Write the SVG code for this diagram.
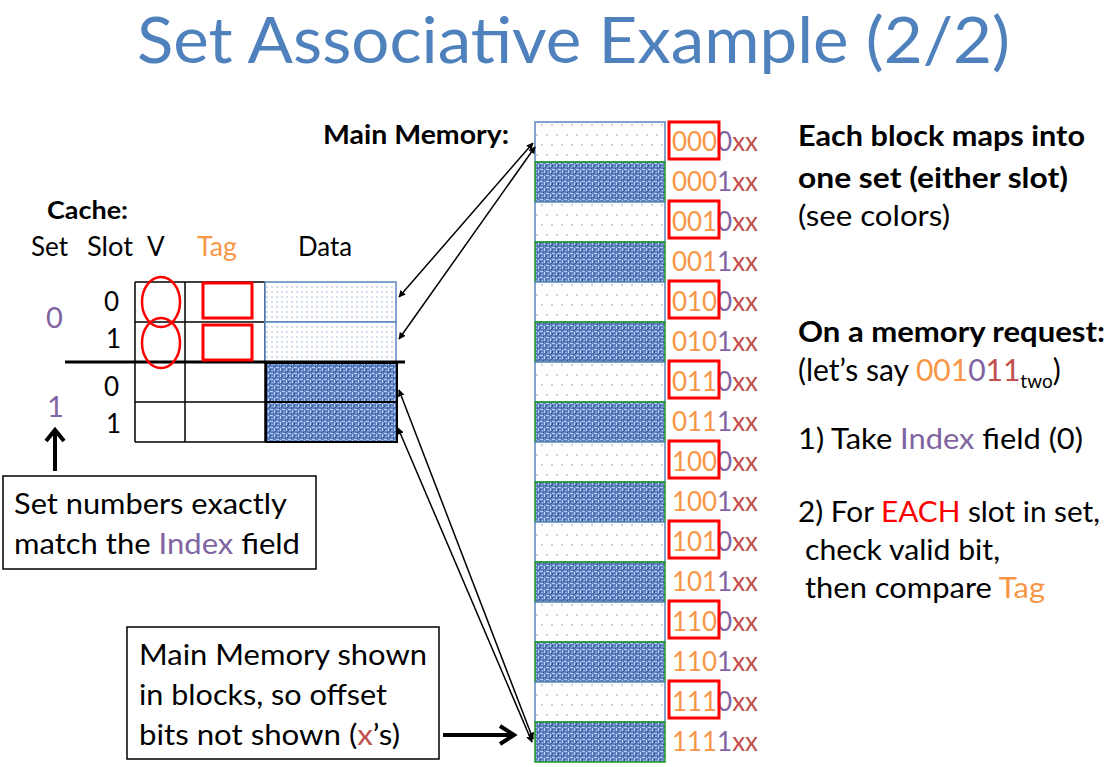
<svg xmlns="http://www.w3.org/2000/svg" width="1113" height="767" viewBox="0 0 1113 767">
<style>
text{font-family:Lato,"Liberation Sans",sans-serif;fill:#000}
.b{font-weight:bold}
.org{fill:#F79646}
.pur{fill:#8064A2}
.red{fill:#C0504D}
.grid{stroke:#000;stroke-width:1.5;fill:none}
.light{fill:url(#dots);stroke:#5B86C0;stroke-width:1.5}
.dark{fill:url(#weave);stroke:#1E9A1E;stroke-width:1.5}
.cl{fill:url(#dots2);stroke:#5B86C0;stroke-width:1.5}
.cd{fill:url(#weave);stroke:#000;stroke-width:2}
.rbox{fill:none;stroke:#FF0000;stroke-width:3}
.conn{stroke:#000;stroke-width:1.5;fill:none;marker-start:url(#ah);marker-end:url(#ah)}
.thick{stroke:#000;stroke-width:4;fill:none}
.addr{font-size:27px}
.box{fill:#fff;stroke:#000;stroke-width:1.5}
.t{font-size:29px}
.h{font-size:26px}
</style>
<defs>
<pattern id="dots" width="10" height="20" patternUnits="userSpaceOnUse">
<rect width="10" height="20" fill="#fff"/>
<circle cx="2" cy="5" r="0.8" fill="#7E9CC8"/>
<circle cx="7" cy="15" r="0.8" fill="#7E9CC8"/>
</pattern>
<pattern id="dots2" width="5" height="5" patternUnits="userSpaceOnUse">
<rect width="5" height="5" fill="#fff"/>
<circle cx="2" cy="2" r="0.65" fill="#7E9CC8"/>
</pattern>
<pattern id="weave" width="6" height="6" patternUnits="userSpaceOnUse">
<rect width="6" height="6" fill="#5F82C2"/>
<rect x="0" y="1" width="3" height="1" fill="#B9D0F4"/>
<rect x="4" y="2" width="1" height="3" fill="#B9D0F4"/>
<rect x="1" y="4" width="2" height="1" fill="#92AFE0"/>
<rect x="3" y="0" width="1" height="1" fill="#34528E"/>
<rect x="0" y="3" width="1" height="2" fill="#34528E"/>
<rect x="5" y="5" width="1" height="1" fill="#34528E"/>
</pattern>
<marker id="ah" viewBox="0 0 10 10" refX="9" refY="5" markerWidth="7" markerHeight="7" orient="auto-start-reverse" markerUnits="userSpaceOnUse">
<path d="M0,0 L10,5 L0,10 z" fill="#000"/>
</marker>
</defs>

<g id="title"><text x="137" y="63" font-size="63" style="fill:#4F81BD" textLength="873" lengthAdjust="spacingAndGlyphs">Set Associative Example (2/2)</text></g>

<g id="memory-label"><text class="b" x="323" y="144" font-size="27" textLength="186" lengthAdjust="spacingAndGlyphs">Main Memory:</text></g>

<g id="memory">
<rect class="light" x="535" y="122" width="130" height="40"/>
<rect class="dark" x="535" y="162" width="130" height="40"/>
<rect class="light" x="535" y="202" width="130" height="40"/>
<rect class="dark" x="535" y="242" width="130" height="40"/>
<rect class="light" x="535" y="282" width="130" height="40"/>
<rect class="dark" x="535" y="322" width="130" height="40"/>
<rect class="light" x="535" y="362" width="130" height="40"/>
<rect class="dark" x="535" y="402" width="130" height="40"/>
<rect class="light" x="535" y="442" width="130" height="40"/>
<rect class="dark" x="535" y="482" width="130" height="40"/>
<rect class="light" x="535" y="522" width="130" height="40"/>
<rect class="dark" x="535" y="562" width="130" height="40"/>
<rect class="light" x="535" y="602" width="130" height="40"/>
<rect class="dark" x="535" y="642" width="130" height="40"/>
<rect class="light" x="535" y="682" width="130" height="40"/>
<rect class="dark" x="535" y="722" width="130" height="40"/>
</g>

<g id="addresses">
<text class="addr" x="672" y="151" textLength="86" lengthAdjust="spacingAndGlyphs"><tspan class="org">000</tspan><tspan class="pur">0</tspan><tspan class="red">xx</tspan></text>
<text class="addr" x="672" y="191" textLength="86" lengthAdjust="spacingAndGlyphs"><tspan class="org">000</tspan><tspan class="pur">1</tspan><tspan class="red">xx</tspan></text>
<text class="addr" x="672" y="231" textLength="86" lengthAdjust="spacingAndGlyphs"><tspan class="org">001</tspan><tspan class="pur">0</tspan><tspan class="red">xx</tspan></text>
<text class="addr" x="672" y="271" textLength="86" lengthAdjust="spacingAndGlyphs"><tspan class="org">001</tspan><tspan class="pur">1</tspan><tspan class="red">xx</tspan></text>
<text class="addr" x="672" y="311" textLength="86" lengthAdjust="spacingAndGlyphs"><tspan class="org">010</tspan><tspan class="pur">0</tspan><tspan class="red">xx</tspan></text>
<text class="addr" x="672" y="351" textLength="86" lengthAdjust="spacingAndGlyphs"><tspan class="org">010</tspan><tspan class="pur">1</tspan><tspan class="red">xx</tspan></text>
<text class="addr" x="672" y="391" textLength="86" lengthAdjust="spacingAndGlyphs"><tspan class="org">011</tspan><tspan class="pur">0</tspan><tspan class="red">xx</tspan></text>
<text class="addr" x="672" y="431" textLength="86" lengthAdjust="spacingAndGlyphs"><tspan class="org">011</tspan><tspan class="pur">1</tspan><tspan class="red">xx</tspan></text>
<text class="addr" x="672" y="471" textLength="86" lengthAdjust="spacingAndGlyphs"><tspan class="org">100</tspan><tspan class="pur">0</tspan><tspan class="red">xx</tspan></text>
<text class="addr" x="672" y="511" textLength="86" lengthAdjust="spacingAndGlyphs"><tspan class="org">100</tspan><tspan class="pur">1</tspan><tspan class="red">xx</tspan></text>
<text class="addr" x="672" y="551" textLength="86" lengthAdjust="spacingAndGlyphs"><tspan class="org">101</tspan><tspan class="pur">0</tspan><tspan class="red">xx</tspan></text>
<text class="addr" x="672" y="591" textLength="86" lengthAdjust="spacingAndGlyphs"><tspan class="org">101</tspan><tspan class="pur">1</tspan><tspan class="red">xx</tspan></text>
<text class="addr" x="672" y="631" textLength="86" lengthAdjust="spacingAndGlyphs"><tspan class="org">110</tspan><tspan class="pur">0</tspan><tspan class="red">xx</tspan></text>
<text class="addr" x="672" y="671" textLength="86" lengthAdjust="spacingAndGlyphs"><tspan class="org">110</tspan><tspan class="pur">1</tspan><tspan class="red">xx</tspan></text>
<text class="addr" x="672" y="711" textLength="86" lengthAdjust="spacingAndGlyphs"><tspan class="org">111</tspan><tspan class="pur">0</tspan><tspan class="red">xx</tspan></text>
<text class="addr" x="672" y="751" textLength="86" lengthAdjust="spacingAndGlyphs"><tspan class="org">111</tspan><tspan class="pur">1</tspan><tspan class="red">xx</tspan></text>
<rect class="rbox" x="669" y="122" width="50" height="37"/>
<rect class="rbox" x="669" y="201" width="50" height="37"/>
<rect class="rbox" x="669" y="281" width="50" height="37"/>
<rect class="rbox" x="669" y="361" width="50" height="37"/>
<rect class="rbox" x="669" y="441" width="50" height="37"/>
<rect class="rbox" x="669" y="521" width="50" height="37"/>
<rect class="rbox" x="669" y="601" width="50" height="37"/>
<rect class="rbox" x="669" y="681" width="50" height="37"/>
</g>

<g id="cache">
<text class="b" x="47" y="219" font-size="25" textLength="81" lengthAdjust="spacingAndGlyphs">Cache:</text>
<text class="h" x="31" y="256" textLength="37" lengthAdjust="spacingAndGlyphs">Set</text>
<text class="h" x="87" y="256" textLength="46" lengthAdjust="spacingAndGlyphs">Slot</text>
<text class="h" x="147" y="256">V</text>
<text class="h org" x="197" y="256" textLength="40" lengthAdjust="spacingAndGlyphs">Tag</text>
<text class="h" x="298" y="256" textLength="54" lengthAdjust="spacingAndGlyphs">Data</text>
<text class="pur" x="46" y="328" font-size="29">0</text>
<text class="pur" x="47" y="417" font-size="29">1</text>
<text class="h" x="104" y="311">0</text>
<text class="h" x="106" y="348">1</text>
<text class="h" x="104" y="396">0</text>
<text class="h" x="106" y="433">1</text>
<path class="grid" d="M135,282 H265 M135,322 H265 M135,402 H265 M135,442 H265 M135,282 V442 M185,282 V442 M265,282 V442"/>
<rect class="cl" x="265" y="282" width="131" height="40"/>
<rect class="cl" x="265" y="322" width="131" height="40"/>
<rect class="cd" x="266" y="363" width="131" height="39"/>
<rect class="cd" x="266" y="402" width="131" height="40"/>
<line x1="65" y1="362" x2="405" y2="362" stroke="#000" stroke-width="3"/>
<ellipse cx="161" cy="302" rx="19" ry="25" fill="none" stroke="#FF0000" stroke-width="2.5"/>
<ellipse cx="161" cy="343" rx="19" ry="25" fill="none" stroke="#FF0000" stroke-width="2.5"/>
<rect class="rbox" x="203" y="283" width="49" height="35"/>
<rect class="rbox" x="203" y="325" width="49" height="35"/>
</g>

<g id="note-set">
<rect class="box" x="3" y="476" width="313" height="93"/>
<text class="t" x="14" y="514" textLength="273" lengthAdjust="spacingAndGlyphs">Set numbers exactly</text>
<text class="t" x="14" y="554" textLength="286" lengthAdjust="spacingAndGlyphs">match the <tspan class="pur">Index</tspan> field</text>
</g>

<g id="note-memory">
<rect class="box" x="127" y="627" width="312" height="132"/>
<text class="t" x="139" y="665" textLength="288" lengthAdjust="spacingAndGlyphs">Main Memory shown</text>
<text class="t" x="139" y="705" textLength="248" lengthAdjust="spacingAndGlyphs">in blocks, so offset</text>
<text class="t" x="139" y="745" textLength="261" lengthAdjust="spacingAndGlyphs">bits not shown (<tspan class="red">x</tspan>’s)</text>
</g>

<g id="right-text">
<text class="b" x="798" y="146" font-size="28" textLength="287" lengthAdjust="spacingAndGlyphs">Each block maps into</text>
<text class="b" x="798" y="188" font-size="28" textLength="270" lengthAdjust="spacingAndGlyphs">one set (either slot)</text>
<text class="t" x="798" y="226" textLength="152" lengthAdjust="spacingAndGlyphs">(see colors)</text>
<text class="b" x="798" y="342" font-size="28" textLength="307" lengthAdjust="spacingAndGlyphs">On a memory request:</text>
<text x="798" y="381" font-size="30">(let’s say <tspan class="org">001</tspan><tspan class="pur">0</tspan><tspan class="red">11</tspan><tspan font-size="19" dy="7">two</tspan><tspan dy="-7">)</tspan></text>
<text class="t" x="798" y="449" textLength="285" lengthAdjust="spacingAndGlyphs">1) Take <tspan class="pur">Index</tspan> field (0)</text>
<text class="t" x="798" y="522" textLength="302" lengthAdjust="spacingAndGlyphs">2) For <tspan style="fill:#FF0000">EACH</tspan> slot in set,</text>
<text class="t" x="805" y="560" textLength="195" lengthAdjust="spacingAndGlyphs">check valid bit,</text>
<text class="t" x="805" y="598" textLength="240" lengthAdjust="spacingAndGlyphs">then compare <tspan class="org">Tag</tspan></text>
</g>

<g id="connectors">
<line class="conn" x1="533" y1="143" x2="399" y2="297"/>
<line class="conn" x1="535" y1="147" x2="399" y2="339"/>
<line class="conn" x1="533" y1="739" x2="399" y2="390"/>
<line class="conn" x1="532" y1="742" x2="398" y2="428"/>
<path class="thick" d="M443,735 H512 M500,726 L514,735 L500,744"/>
<path class="thick" d="M55,471 V432 M46,441 L55,430 L64,441"/>
</g>
</svg>
